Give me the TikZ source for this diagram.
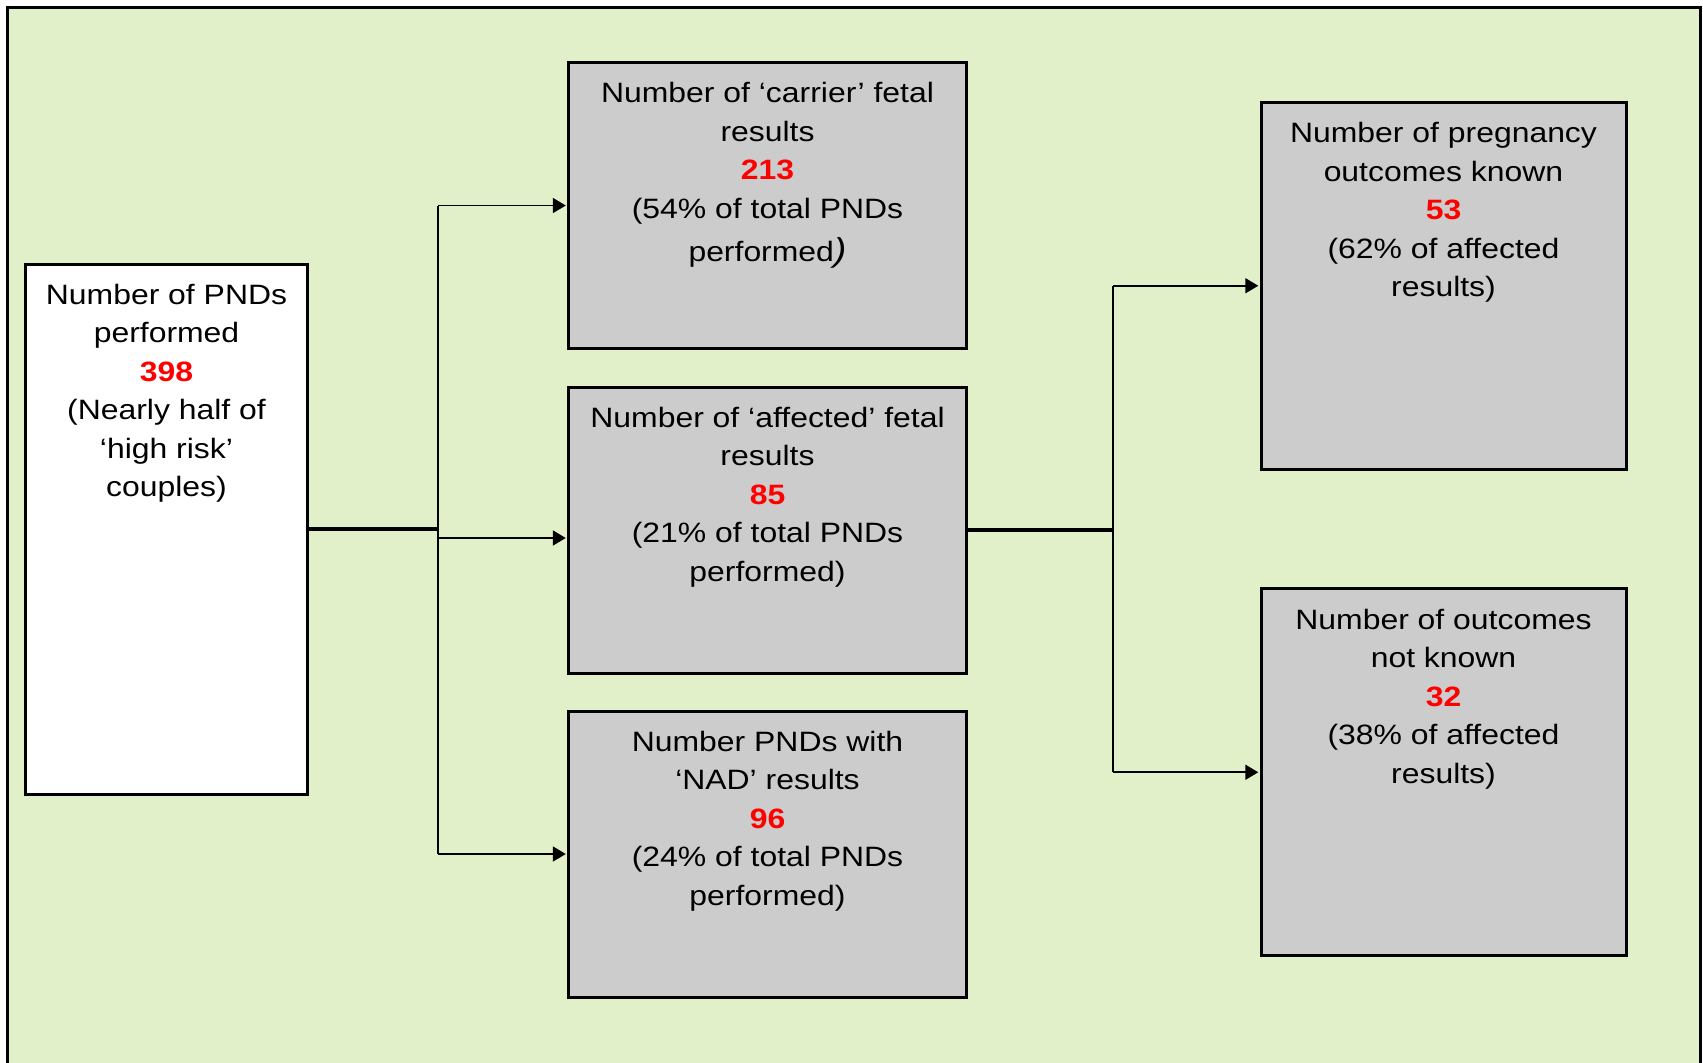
\documentclass[tikz,border=0pt]{standalone}
\usepackage{fontspec}
\setmainfont{Liberation Sans}[FakeStretch=1.14]
\usetikzlibrary{arrows.meta}
\definecolor{bggreen}{RGB}{226,240,202}
\definecolor{boxgray}{RGB}{204,204,204}
\definecolor{numred}{RGB}{255,0,0}
\newcommand{\rednum}[1]{{\color{numred}\bfseries #1}}
\begin{document}
\begin{tikzpicture}[x=0.5pt,y=-0.5pt,
  box/.style={draw=black, line width=1.5pt, inner sep=0pt, rectangle},
  whitebox/.style={box, fill=white},
  graybox/.style={box, fill=boxgray},
  midbox/.style={graybox, minimum width=199pt, minimum height=143pt},
  rightbox/.style={graybox, minimum width=182.5pt, minimum height=183.3pt},
  txt/.style={anchor=north, inner sep=0pt, align=center, font=\fontsize{14}{19.25}\selectfont},
  thickline/.style={line width=1.6pt},
  thinline/.style={line width=0.9pt},
  arr/.style={thinline, -{Triangle[length=6.5pt,width=7.5pt]}, shorten >=0.6pt}
]
\useasboundingbox (0,0) rectangle (1703,1062);
\fill[white] (0,0) rectangle (1703,1062);
\draw[line width=1.5pt, fill=bggreen] (7,7) rectangle (1700,1090);

% boxes
\node[whitebox, minimum width=141pt, minimum height=265pt] (L) at (166.5,529) {};
\node[midbox] (M1) at (767.5,205.5) {};
\node[midbox] (M2) at (767.5,530) {};
\node[midbox] (M3) at (767.5,854) {};
\node[rightbox] (R1) at (1443.5,285.75) {};
\node[rightbox] (R2) at (1443.5,772.25) {};

% texts
\node[txt] (Lt) at ([yshift=-10.6pt]L.north) {Number of PNDs\\performed\\\rednum{398}\\(Nearly half of\\‘high risk’\\couples)};
\node[txt] (M1t) at ([yshift=-10.6pt]M1.north) {Number of ‘carrier’ fetal\\results\\\rednum{213}\\(54\% of total PNDs\\[2.2pt]performed{\fontsize{16.5}{19.25}\selectfont\itshape )}};
\node[txt] (M2t) at ([yshift=-10.6pt]M2.north) {Number of ‘affected’ fetal\\results\\\rednum{85}\\(21\% of total PNDs\\performed)};
\node[txt] (M3t) at ([yshift=-10.6pt]M3.north) {Number PNDs with\\‘NAD’ results\\\rednum{96}\\(24\% of total PNDs\\performed)};
\node[txt] (R1t) at ([yshift=-10.6pt]R1.north) {Number of pregnancy\\outcomes known\\\rednum{53}\\(62\% of affected\\results)};
\node[txt] (R2t) at ([yshift=-10.6pt]R2.north) {Number of outcomes\\not known\\\rednum{32}\\(38\% of affected\\results)};

% connectors left
\coordinate (j1) at (438,529);
\coordinate (m2in) at ([yshift=-4pt]M2.west);
\draw[thickline] (L.east) -- (j1);
\draw[thinline] (j1 |- M1.west) -- (j1 |- M3.west);
\draw[arr] (j1 |- M1.west) -- (M1.west);
\draw[arr] (j1 |- m2in) -- (m2in);
\draw[arr] (j1 |- M3.west) -- (M3.west);

% connectors right
\coordinate (j2) at (1113,530);
\draw[thickline] (M2.east) -- (j2);
\draw[thinline] (j2 |- R1.west) -- (j2 |- R2.west);
\draw[arr] (j2 |- R1.west) -- (R1.west);
\draw[arr] (j2 |- R2.west) -- (R2.west);
\end{tikzpicture}
\end{document}
